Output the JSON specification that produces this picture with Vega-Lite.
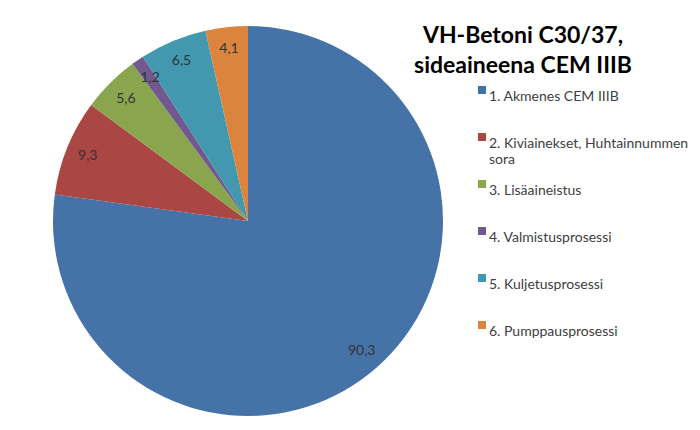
{
  "$schema": "https://vega.github.io/schema/vega-lite/v6.json",
  "width": 440,
  "height": 426,
  "autosize": {"type": "none"},
  "padding": {"left": 28, "top": 8, "right": 232, "bottom": 0},
  "background": "white",
  "title": {
    "text": ["VH-Betoni C30/37,", "sideaineena CEM IIIB"],
    "anchor": "middle",
    "frame": "group",
    "align": "center",
    "orient": "top",
    "baseline": "top",
    "offset": 0,
    "dx": 275,
    "dy": 70,
    "font": "Lato",
    "fontSize": 23,
    "fontWeight": "bold",
    "color": "#000000",
    "lineHeight": 30
  },
  "data": {
    "values": [
      {"order": 1, "category": "1. Akmenes CEM IIIB", "value": 90.3},
      {"order": 2, "category": "2. Kiviainekset, Huhtainnummen sora", "value": 9.3},
      {"order": 3, "category": "3. Lisäaineistus", "value": 5.6},
      {"order": 4, "category": "4. Valmistusprosessi", "value": 1.2},
      {"order": 5, "category": "5. Kuljetusprosessi", "value": 6.5},
      {"order": 6, "category": "6. Pumppausprosessi", "value": 4.1}
    ]
  },
  "encoding": {
    "theta": {"field": "value", "type": "quantitative", "stack": true},
    "order": {"field": "order", "type": "quantitative"}
  },
  "layer": [
    {
      "mark": {"type": "arc", "outerRadius": 195},
      "encoding": {
        "color": {
          "field": "category",
          "type": "nominal",
          "scale": {
            "domain": ["1. Akmenes CEM IIIB", "2. Kiviainekset, Huhtainnummen sora", "3. Lisäaineistus", "4. Valmistusprosessi", "5. Kuljetusprosessi", "6. Pumppausprosessi"],
            "range": ["#4572A7", "#AA4643", "#89A54E", "#71588F", "#4198AF", "#DB843D"]
          },
          "legend": {
            "title": null,
            "orient": "none",
            "legendX": 447,
            "legendY": 75,
            "padding": 0,
            "symbolType": "square",
            "symbolSize": 64,
            "symbolStrokeWidth": 0,
            "labelFont": "Lato",
            "labelFontSize": 14,
            "labelColor": "#404040",
            "labelOffset": 0,
            "labelLimit": 300,
            "gridAlign": "all",
            "rowPadding": 10,
            "labelBaseline": "top",
            "labelExpr": "datum.label == '2. Kiviainekset, Huhtainnummen sora' ? ['2. Kiviainekset, Huhtainnummen', 'sora'] : datum.label"
          }
        }
      }
    },
    {
      "mark": {"type": "text", "radius": 173, "font": "Lato", "fontSize": 14, "align": "center", "baseline": "middle"},
      "encoding": {
        "color": {"value": "#333333"},
        "text": {"field": "value", "type": "quantitative", "format": ".1f"}
      }
    }
  ],
  "config": {
    "view": {"stroke": null},
    "locale": {"number": {"decimal": ",", "thousands": "\u00a0", "grouping": [3], "currency": ["", " €"]}}
  }
}
